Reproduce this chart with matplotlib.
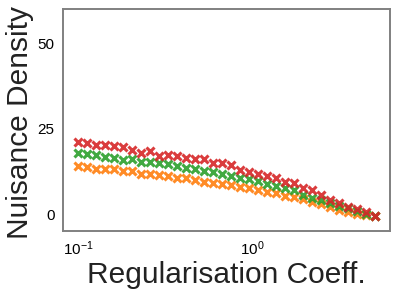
import numpy as np
import matplotlib
matplotlib.use("Agg")
from matplotlib import pyplot as plt

plt.rcParams.update({
    "font.family": ["Liberation Sans", "DejaVu Sans"],
    "mathtext.fontset": "custom",
    "mathtext.rm": "Liberation Sans",
    "mathtext.it": "Liberation Sans:italic",
})

# regularisation coefficients (log-spaced grid from 0.1 to 5)
reg_coeff = [0.100, 0.113, 0.127, 0.143, 0.161, 0.181, 0.204, 0.230, 0.259,
             0.291, 0.328, 0.369, 0.416, 0.468, 0.527, 0.593, 0.668, 0.752,
             0.846, 0.953, 1.073, 1.208, 1.360, 1.531, 1.724, 1.941, 2.185,
             2.460, 2.770, 3.118, 3.511, 3.953, 4.450, 5.000]

density_red = [21.1, 20.9, 20.3, 20.1, 19.9, 19.7, 18.8, 17.8, 18.3, 17.0,
               17.4, 17.0, 16.4, 16.0, 16.2, 14.9, 14.9, 14.3, 12.9, 12.3,
               11.8, 11.0, 10.6, 9.4, 9.2, 7.5, 6.9, 5.5, 4.2, 3.2,
               2.2, 1.5, 0.5, -0.5]

density_green = [18.0, 17.7, 17.4, 16.8, 16.4, 15.7, 16.0, 15.3, 15.1, 14.9,
                 14.5, 14.1, 13.6, 13.1, 12.6, 12.4, 11.8, 11.2, 10.6, 10.2,
                 9.6, 8.8, 8.3, 7.5, 7.1, 5.7, 4.8, 4.0, 3.2, 2.4,
                 1.7, 0.9, 0.1, -0.5]

density_orange = [14.1, 13.7, 13.3, 13.3, 13.1, 12.5, 12.5, 11.6, 11.6, 11.4,
                  11.0, 10.4, 10.4, 10.0, 9.4, 9.0, 8.8, 8.5, 7.9, 7.5,
                  7.1, 6.5, 6.1, 5.3, 5.0, 4.4, 3.6, 2.8, 2.0, 1.1,
                  0.5, 0.1, -0.3, -0.7]

series = [
    (density_orange, "#ff7f0e"),
    (density_green, "#2ca02c"),
    (density_red, "#d62728"),
]

fig = plt.figure(figsize=(3.99, 2.99), dpi=100)
ax = fig.add_axes([0.158, 0.227, 0.819, 0.743])

for vals, col in series:
    ax.plot(reg_coeff, vals, linestyle="none", marker="x", color=col,
            markersize=5.5, markeredgewidth=2.2, alpha=0.9)

ax.set_xscale("log")
ax.set_ylim(-5, 60)
ax.set_yticks([0, 25, 50])
ax.minorticks_off()
ax.tick_params(length=0, labelsize=11, pad=6)

for s in ax.spines.values():
    s.set_color("#808080")
    s.set_linewidth(1.4)

ax.set_xlabel("Regularisation Coeff.", fontsize=21.5, labelpad=2, color="#222222")
ax.set_ylabel("Nuisance Density", fontsize=21.5, color="#222222")
ax.yaxis.set_label_coords(-0.09, 0.49)

fig.savefig("out.png", dpi=100)
